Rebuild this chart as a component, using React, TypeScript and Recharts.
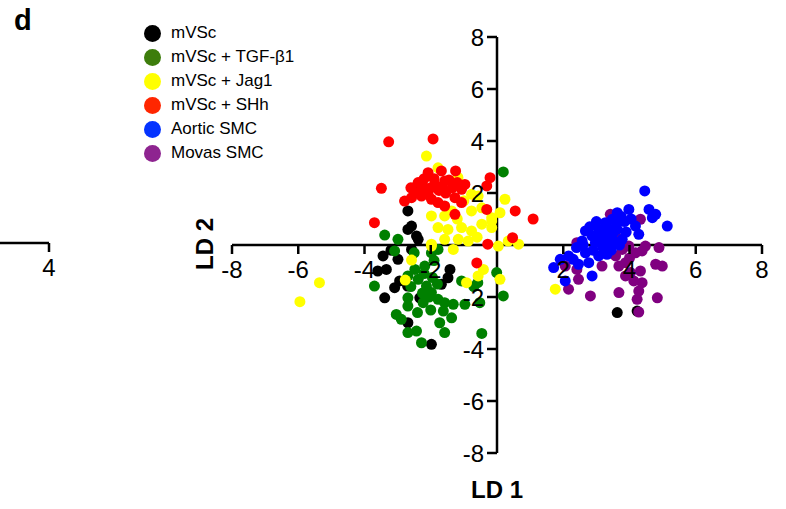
import { ReferenceLine, Scatter, ScatterChart, XAxis, YAxis } from "recharts"

// LD scores, [LD1, LD2]
const mvsc = [
  [-2.54, 2.18], [-2.69, 1.31], [-2.58, 0.73], [-2.43, 0.35], [-2.69, 0.6],
  [-3.44, -0.42], [-3.34, -0.94], [-2.99, -0.55], [-2.58, -0.17], [-2.38, 0.22],
  [-2.94, -1.38], [-3.09, -1.64], [-3.39, -2.03], [-1.42, -0.94], [-1.48, -1.26],
  [-1.68, -1.51], [-2.69, -2.99], [-1.98, -3.82], [-2.33, -2.03], [3.63, -2.6],
  [4.23, -2.54], [-3.6, -1.0], [-2.7, -1.58], [-3.2, -0.2],
]
const tgf = [
  [-3.39, 0.38], [-2.99, 0.22], [-3.09, -0.23], [-1.98, -0.3], [-1.78, -0.17],
  [-2.18, -0.81], [-2.48, -0.94], [-2.69, -1.19], [-3.7, -1.58], [-2.38, -1.32],
  [-2.13, -1.58], [-1.98, -1.83], [-2.23, -2.22], [-1.78, -2.09], [-1.58, -2.22],
  [-1.32, -2.28], [-2.69, -2.03], [-2.69, -2.35], [-3.04, -2.67], [-2.89, -2.86],
  [-1.62, -2.54], [-1.73, -2.99], [-1.37, -2.8], [-1.58, -3.37], [-2.69, -3.37],
  [-2.43, -3.31], [-2.28, -3.76], [-0.46, -3.4], [-1.07, -1.38], [-0.97, -2.28],
  [-0.52, -2.22], [0.19, -1.96], [-0.01, -1.06], [-0.58, -1.45], [-0.7, -1.6],
  [0.19, 2.81], [-2.2, -1.1], [-1.95, -1.25], [-2.25, -1.85], [-2.0, -2.5],
  [-1.8, -1.5], [-2.4, -2.6], [-1.9, -0.6], [-2.6, -1.6], [-2.05, -2.0],
  [-2.5, -0.3],
]
const jag1 = [
  [-2.13, 3.42], [-1.78, 2.97], [-1.18, 2.6], [-0.77, 1.95], [-0.57, 1.88],
  [0.24, 1.76], [0.09, 1.24], [-1.98, 1.12], [-1.58, 1.12], [-1.78, 0.67],
  [-1.48, 0.6], [-1.07, 0.67], [-0.77, 0.54], [-0.46, 0.8], [-0.16, 0.67],
  [-0.16, 1.05], [-1.58, 0.22], [-1.17, 0.22], [-0.87, 0.15], [-1.98, 0.03],
  [-0.77, 1.31], [-0.46, 1.43], [-1.37, 1.31], [0.34, 0.15], [0.65, 0.03],
  [-1.0, 1.7], [-0.16, 0.92], [-1.98, -0.04], [-1.32, -0.17], [-2.58, -0.58],
  [-2.77, -1.35], [-0.57, -1.19], [-0.41, -0.94], [-0.92, -1.45], [0.04, -0.04],
  [0.09, -1.32], [-5.36, -1.45], [-5.95, -2.18], [1.76, -1.7], [-1.2, 1.0],
  [-0.6, 0.3],
]
const shh = [
  [-3.27, 3.97], [-1.93, 4.08], [-3.49, 2.18], [-3.7, 0.86], [-2.08, 2.78],
  [-1.68, 2.85], [-1.25, 2.85], [-2.38, 2.4], [-2.18, 2.2], [-1.88, 2.33],
  [-1.58, 2.46], [-2.79, 1.69], [-2.58, 1.82], [-2.28, 1.88], [-1.98, 1.76],
  [-1.78, 1.63], [-1.58, 1.5], [-1.27, 1.82], [-1.07, 2.14], [-0.97, 2.33],
  [-1.27, 1.18], [-1.07, 1.63], [-0.21, 2.59], [-0.31, 2.27], [-0.31, 1.37],
  [0.55, 1.31], [1.09, 1.0], [0.47, 0.28], [-0.28, 0.03], [-2.48, 2.01],
  [-2.08, 1.95], [-1.55, 2.0], [-0.61, -0.69], [-1.9, 2.55], [-2.3, 2.1],
  [-1.35, 2.2], [-2.0, 2.2], [-1.75, 2.1], [-2.2, 2.55], [-1.45, 2.5],
  [-1.65, 2.25], [-2.6, 2.2], [-1.2, 2.4],
]
const aortic = [
  [4.46, 2.08], [4.59, 1.37], [4.79, 1.18], [5.14, 0.73], [3.98, 1.37],
  [3.63, 1.24], [4.18, 0.73], [4.28, 0.41], [3.27, 0.86], [3.48, 0.99],
  [3.07, 0.6], [2.67, 0.54], [2.87, 0.35], [3.22, 0.35], [3.63, 0.6],
  [3.78, 0.22], [2.57, 0.15], [3.48, 0.22], [4.69, 1.05], [2.6, 0.0],
  [2.97, 0.09], [3.3, 0.05], [3.7, 0.0], [2.67, -0.3], [3.07, -0.42],
  [3.32, -0.36], [2.16, -0.42], [1.91, -0.55], [1.71, -0.87], [2.46, -0.74],
  [2.77, -0.68], [2.87, -1.19], [2.06, -1.38], [3.58, 0.1], [3.4, 0.6],
  [3.0, 0.9], [3.5, 0.45], [2.9, -0.2], [3.2, -0.1], [3.85, 0.9], [3.1, 0.4],
  [3.3, 0.7], [3.6, 0.85], [2.8, 0.7], [3.9, 0.5], [3.2, 0.2], [2.4, -0.1],
  [2.3, -0.55], [3.45, -0.2], [4.05, 1.0], [3.75, 1.1],
]
const movas = [
  [3.42, 1.18], [4.33, 0.99], [2.41, 0.09], [4.89, -0.1], [4.79, -0.74],
  [4.99, -0.81], [4.38, -0.23], [4.18, -0.3], [4.33, -1.0], [4.38, -1.45],
  [4.28, -1.77], [4.23, -2.09], [4.28, -2.58], [4.84, -2.03], [3.68, -1.83],
  [2.82, -1.96], [2.16, -1.7], [2.46, -1.32], [2.41, -0.94], [3.17, -0.81],
  [3.68, -0.81], [3.88, -1.19], [4.13, -1.38], [4.03, -1.06], [3.58, -0.42],
  [3.78, -0.17], [3.88, -0.68], [2.06, -0.81], [3.98, -0.04], [4.48, -0.04],
  [3.4, -0.3], [3.6, 0.3], [4.0, -0.5],
]

const xTicks = [-8, -6, -4, -2, 2, 4, 6, 8]
const yTicks = [-8, -6, -4, -2, 2, 4, 6, 8]

const groups = [
  { name: "mVSc", data: mvsc, fill: "#000000", key: "#000000" },
  { name: "mVSc + TGF-β1", data: tgf, fill: "#008000", key: "#3d7d0c" },
  { name: "mVSc + Jag1", data: jag1, fill: "#ffff00", key: "#ffff00" },
  { name: "mVSc + SHh", data: shh, fill: "#ff0000", key: "#ff2600" },
  { name: "Aortic SMC", data: aortic, fill: "#0000ff", key: "#0433ff" },
  { name: "Movas SMC", data: movas, fill: "#800080", key: "#8e2490" },
]
// drawing order seen in the figure (later ones sit on top)
const drawOrder = [0, 5, 1, 2, 3, 4]

const W = 786
const H = 509
const margin = { top: 37, right: 24, bottom: 26, left: 192 }
const yAxisW = 40
const xAxisH = 30
const plotLeft = margin.left + yAxisW
const plotW = W - plotLeft - margin.right
const plotH = H - margin.top - margin.bottom - xAxisH
const X0 = plotLeft + plotW / 2
const Y0 = margin.top + plotH / 2

const font = "'Liberation Sans', Arial, Helvetica, sans-serif"

const XTick = (props: any) => {
  const { x, payload } = props
  return (
    <g>
      <line x1={x} x2={x} y1={Y0} y2={Y0 + 9} stroke="#000" strokeWidth={2.5} />
      <text x={x} y={Y0 + 33} textAnchor="middle" fontSize={24} fontFamily={font} fill="#000">
        {payload.value}
      </text>
    </g>
  )
}

const YTick = (props: any) => {
  const { y, payload } = props
  return (
    <g>
      <line x1={X0 - 10} x2={X0} y1={y} y2={y} stroke="#000" strokeWidth={2.5} />
      <text x={X0 - 13} y={y + 8.5} textAnchor="end" fontSize={24} fontFamily={font} fill="#000">
        {payload.value}
      </text>
    </g>
  )
}

const Dot = (props: any) => (
  <circle cx={props.cx} cy={props.cy} r={5.5} fill={props.fill} />
)

export default function App() {
  return (
    <div style={{ position: "absolute", left: 0, top: 0, width: W, height: H, background: "#fff", fontFamily: font }}>
      <ScatterChart width={W} height={H} margin={margin}>
        <XAxis
          type="number"
          dataKey="x"
          domain={[-8, 8]}
          ticks={xTicks}
          interval={0}
          height={xAxisH}
          axisLine={false}
          tickLine={false}
          tick={<XTick />}
        />
        <YAxis
          type="number"
          dataKey="y"
          domain={[-8, 8]}
          ticks={yTicks}
          interval={0}
          width={yAxisW}
          axisLine={false}
          tickLine={false}
          tick={<YTick />}
        />
        {drawOrder.map((i) => (
          <Scatter
            key={groups[i].name}
            name={groups[i].name}
            data={groups[i].data.map(([x, y]) => ({ x, y }))}
            fill={groups[i].fill}
            shape={<Dot />}
            isAnimationActive={false}
          />
        ))}
        <ReferenceLine y={0} stroke="#000" strokeWidth={2.5} />
        <ReferenceLine x={0} stroke="#000" strokeWidth={2.5} />
      </ScatterChart>

      <div style={{ position: "absolute", left: 14, top: 4, fontSize: 29, fontWeight: "bold" }}>d</div>

      <div
        style={{
          position: "absolute",
          left: X0 - 60,
          width: 120,
          top: 476,
          textAlign: "center",
          fontSize: 24,
          fontWeight: "bold",
        }}
      >
        LD 1
      </div>
      <div
        style={{
          position: "absolute",
          left: 205 - 60,
          top: Y0 - 15,
          width: 120,
          textAlign: "center",
          fontSize: 24,
          fontWeight: "bold",
          transform: "rotate(-90deg)",
        }}
      >
        LD 2
      </div>

      <div style={{ position: "absolute", left: 144, top: 21 }}>
        {groups.map((g) => (
          <div key={g.name} style={{ display: "flex", alignItems: "center", height: 24, fontSize: 17 }}>
            <span
              style={{
                display: "inline-block",
                width: 17,
                height: 17,
                borderRadius: "50%",
                background: g.key,
                marginRight: 10,
              }}
            />
            <span>{g.name}</span>
          </div>
        ))}
      </div>

      {/* edge of the neighbouring panel */}
      <svg style={{ position: "absolute", left: 0, top: 0 }} width={80} height={300}>
        <line x1={0} x2={49} y1={243} y2={243} stroke="#000" strokeWidth={2.5} />
        <line x1={49} x2={49} y1={243} y2={252} stroke="#000" strokeWidth={2.5} />
        <text x={49} y={276} textAnchor="middle" fontSize={24} fontFamily={font}>
          4
        </text>
      </svg>
    </div>
  )
}
